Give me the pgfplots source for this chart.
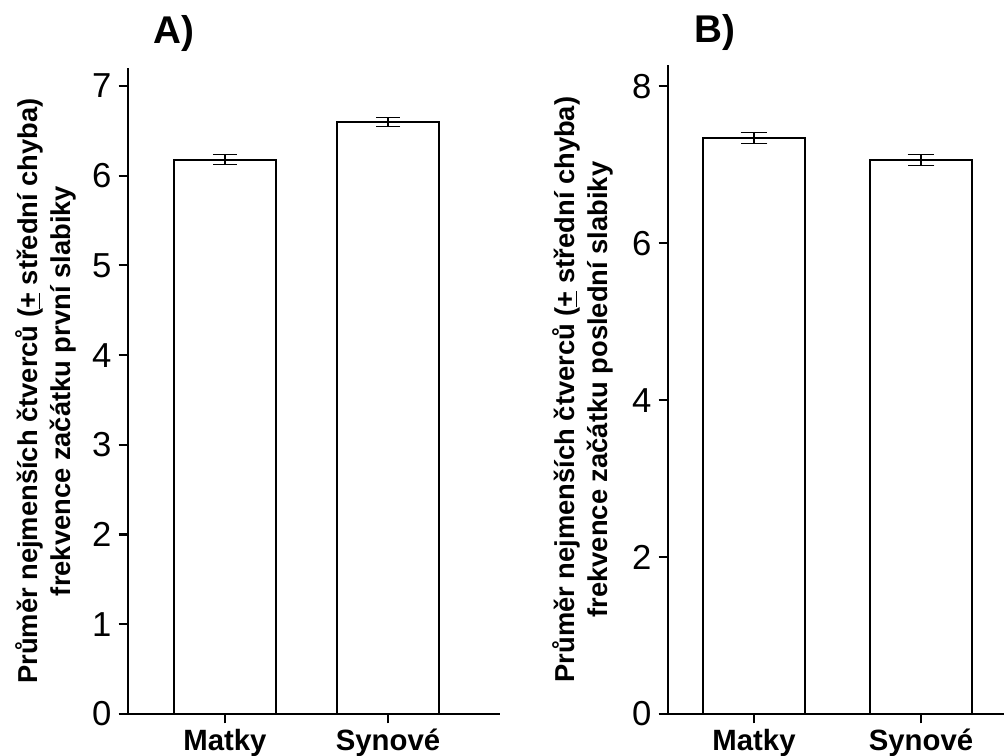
\documentclass[border=0pt]{standalone}
\usepackage{pgfplots}
\pgfplotsset{compat=1.18}
\usepackage{fontspec}
\setmainfont{Liberation Sans}
\begin{document}
\begin{tikzpicture}
\useasboundingbox (0,0) rectangle (753pt,567pt);
\pgfplotsset{
  mystyle/.style={
    scale only axis,
    axis x line=bottom, axis y line=left,
    axis line style={-, line width=2.2pt},
    ymin=0,
    xtick={0,1}, xticklabels={Matky,Synové},
    x tick label style={font=\fontsize{22}{22}\selectfont\bfseries, yshift=-1pt},
    y tick label style={font=\fontsize{26}{26}\selectfont, xshift=-2pt},
    /pgf/number format/assume math mode=true,
    tick align=outside,
    major tick length=7pt,
    tick style={line width=1.6pt, black},
    ylabel style={font=\fontsize{20.5}{25}\selectfont\bfseries, align=center, anchor=center},
    clip=false,
  },
  mybar/.style={
    ybar, fill=white, draw=black, line width=1.5pt,
    error bars/y dir=both, error bars/y explicit,
    error bars/error bar style={line width=1pt, black},
  },
}
\begin{axis}[mystyle,
  at={(96pt,31.5pt)}, anchor=south west,
  width=279pt, height=484.5pt,
  xmin=-0.595, xmax=1.687, ymax=7.2,
  ytick={0,1,2,3,4,5,6,7},
  ylabel={Průměr nejmenších čtverců (\underline{+} střední chyba)\\frekvence začátku první slabiky},
  ylabel style={at={(axis description cs:-0.22,0.5)}},
]
\addplot[mybar, bar width=0.62, error bars/error mark options={rotate=90, mark size=9pt, line width=1pt}]
  coordinates {(0,6.18) +- (0,0.055) (1,6.60) +- (0,0.05)};
\node[font=\fontsize{29}{29}\selectfont\bfseries, anchor=center] at (axis description cs:0.124,1.053) {A)};
\end{axis}
\begin{axis}[mystyle,
  at={(501pt,31.5pt)}, anchor=south west,
  width=252pt, height=486.75pt,
  xmin=-0.515, xmax=1.497, ymax=8.27,
  ytick={0,2,4,6,8},
  ylabel={Průměr nejmenších čtverců (\underline{+} střední chyba)\\frekvence začátku poslední slabiky},
  ylabel style={at={(axis description cs:-0.253,0.5)}},
]
\addplot[mybar, bar width=0.605, error bars/error mark options={rotate=90, mark size=10pt, line width=1pt}]
  coordinates {(0,7.34) +- (0,0.068) (1,7.06) +- (0,0.07)};
\node[font=\fontsize{29}{29}\selectfont\bfseries, anchor=center] at (axis description cs:0.14,1.05) {B)};
\end{axis}
\end{tikzpicture}
\end{document}
